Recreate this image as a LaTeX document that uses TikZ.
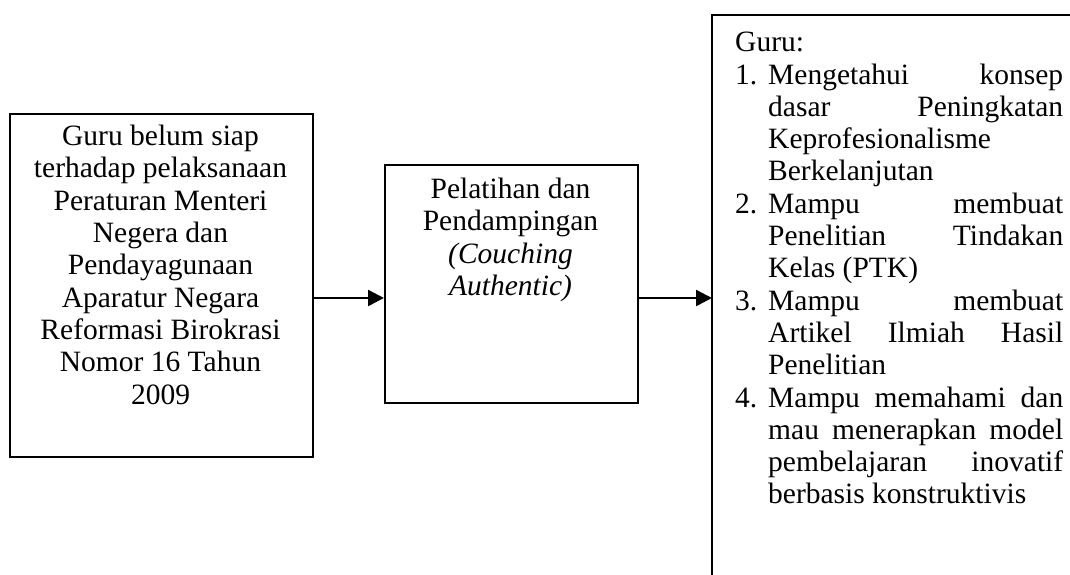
\documentclass[tikz,border=0pt]{standalone}
\usepackage{fontspec}
\setmainfont{Liberation Serif}
\usetikzlibrary{arrows.meta}
\newlength{\itw}
\setlength{\itw}{295pt}
\newcommand{\jl}[1]{\makebox[\itw][s]{#1}}
\newcommand{\il}[2]{\makebox[33pt][l]{#1}\makebox[\itw][l]{#2}}
\tikzset{
  boxx/.style={draw=black, line width=2.4pt, inner sep=0pt},
  txt/.style={font=\fontsize{29.5}{32.3}\selectfont, inner sep=0pt, align=center},
  arr/.style={line width=2.4pt, -{Triangle[length=16pt,width=16pt]}}
}
\begin{document}
\begin{tikzpicture}[x=1pt,y=-1pt]
\useasboundingbox (0,0) rectangle (1070,574);
% boxes
\node[boxx, minimum width=303pt, minimum height=343pt, anchor=north west] (left) at (9,113) {};
\node[boxx, minimum width=253pt, minimum height=238pt, anchor=north west] (mid) at (384,164) {};
\coordinate (rin) at (712,298);
\draw[line width=2.4pt] (1075,15) -- (712,15) -- (712,580);
% texts
\node[txt, anchor=north] (lt) at (160.5,125) {Guru belum siap\\terhadap pelaksanaan\\Peraturan Menteri\\Negera dan\\Pendayagunaan\\Aparatur Negara\\Reformasi Birokrasi\\Nomor 16 Tahun\\2009};
\node[txt, anchor=north] (mt) at (510.5,178) {Pelatihan dan\\Pendampingan\\\textit{(Couching}\\\textit{Authentic)}};
\node[txt, anchor=north west, align=left] (rt) at (735,32) {Guru:\\
\il{1.}{\jl{Mengetahui konsep}}\\
\il{}{\jl{dasar Peningkatan}}\\
\il{}{Keprofesionalisme}\\
\il{}{Berkelanjutan}\\
\il{2.}{\jl{Mampu membuat}}\\
\il{}{\jl{Penelitian Tindakan}}\\
\il{}{Kelas (PTK)}\\
\il{3.}{\jl{Mampu membuat}}\\
\il{}{\jl{Artikel Ilmiah Hasil}}\\
\il{}{Penelitian}\\
\il{4.}{\jl{Mampu memahami dan}}\\
\il{}{\jl{mau menerapkan model}}\\
\il{}{\jl{pembelajaran inovatif}}\\
\il{}{berbasis konstruktivis}};
% arrows
\draw[arr] (left.east |- 0,298) -- (mid.west |- 0,298);
\draw[arr] (mid.east |- 0,298) -- (rin);
\end{tikzpicture}
\end{document}
